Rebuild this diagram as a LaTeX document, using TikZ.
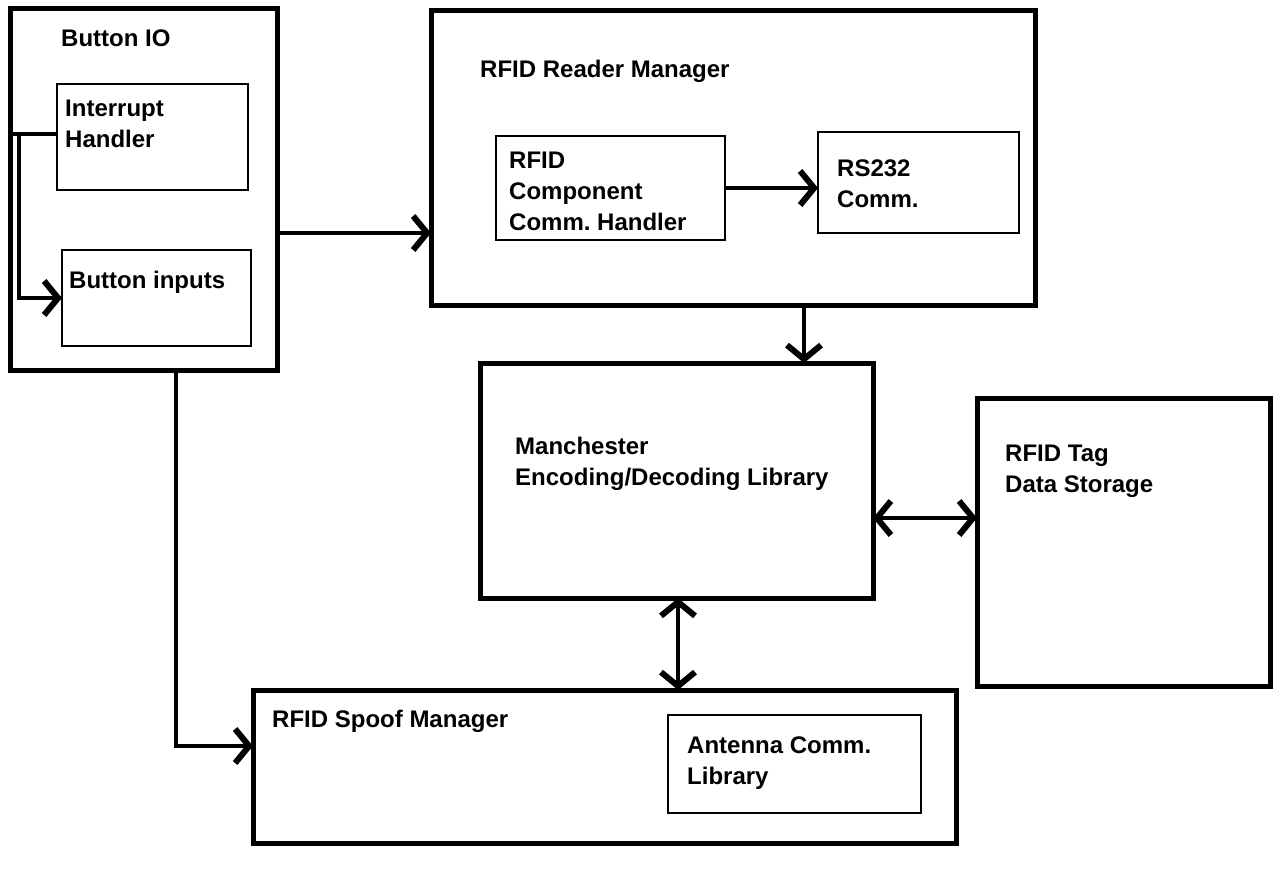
\documentclass[tikz,border=0pt]{standalone}
\usepackage{fontspec}
\setmainfont{Liberation Sans}
\usetikzlibrary{arrows.meta}
\frenchspacing
\begin{document}
\begin{tikzpicture}[x=1pt,y=-1pt,
  bigbox/.style={draw=black,line width=5pt,inner sep=0pt,outer sep=0pt},
  smallbox/.style={draw=black,line width=2pt,inner sep=0pt,outer sep=0pt},
  lbl/.style={anchor=north west,inner sep=0pt,align=left,font=\bfseries\fontsize{24}{31}\selectfont},
  conn/.style={line width=4.5pt,draw=black},
  arr/.style={conn,-{Straight Barb[length=14pt,width=34pt,line width=6pt]}},
  darr/.style={conn,{Straight Barb[length=14pt,width=34pt,line width=6pt]}-{Straight Barb[length=14pt,width=34pt,line width=6pt]}}]
\useasboundingbox (0,0) rectangle (1274,871);
% boxes
\node[bigbox,minimum width=267pt,minimum height=362pt] (bio) at (143.5,189) {};
\node[smallbox,minimum width=191pt,minimum height=106pt] (int) at (152.5,137) {};
\node[smallbox,minimum width=189pt,minimum height=96pt] (bin) at (156.5,298) {};
\node[bigbox,minimum width=604pt,minimum height=295pt] (rrm) at (733,157.5) {};
\node[smallbox,minimum width=229pt,minimum height=104pt] (comp) at (610.5,188) {};
\node[smallbox,minimum width=201pt,minimum height=101pt] (rs) at (918.5,182.5) {};
\node[bigbox,minimum width=393pt,minimum height=235pt] (man) at (676.5,480.5) {};
\node[bigbox,minimum width=293pt,minimum height=288pt] (tag) at (1123.5,542) {};
\node[bigbox,minimum width=703pt,minimum height=153pt] (spoof) at (604.5,766.5) {};
\node[smallbox,minimum width=253pt,minimum height=98pt] (ant) at (794.5,764) {};
% labels
\node[lbl] (tbio) at (61,30) {Button IO};
\node[lbl] (tint) at (65,100) {Interrupt\\Handler};
\node[lbl] (tbin) at (69,271) {Button inputs};
\node[lbl] (trrm) at (480,60) {RFID Reader Manager};
\node[lbl] (tcomp) at (509,152) {RFID\\Component\\Comm. Handler};
\node[lbl] (trs) at (837,160) {RS232\\Comm.};
\node[lbl] (tman) at (515,437) {Manchester\\Encoding/Decoding Library};
\node[lbl] (ttag) at (1005,445) {RFID Tag\\Data Storage};
\node[lbl] (tspoof) at (272,710) {RFID Spoof Manager};
\node[lbl] (tant) at (687,737) {Antenna Comm.\\Library};
% helper coordinates
\coordinate (c1) at (19,134);
\coordinate (c2) at (0,233);
\coordinate (c3) at (804,0);
\coordinate (c4) at (0,518);
\coordinate (c5) at (678,0);
\coordinate (c6) at (176,746);
% connectors
\draw[conn] (int.west |- c1) -- (bio.west |- c1);
\draw[arr] (c1) |- (bin.west);
\draw[arr] (bio.east |- c2) -- (rrm.west |- c2);
\draw[arr] (comp.east) -- (rs.west |- comp.east);
\draw[arr] (rrm.south -| c3) -- (man.north -| c3);
\draw[darr] (man.east |- c4) -- (tag.west |- c4);
\draw[darr] (man.south -| c5) -- (spoof.north -| c5);
\draw[arr] (bio.south -| c6) |- (spoof.west |- c6);
\end{tikzpicture}
\end{document}
